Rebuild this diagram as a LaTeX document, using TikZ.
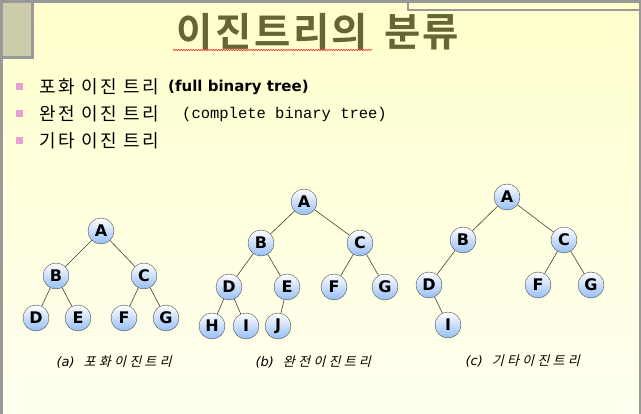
\documentclass[tikz,border=0pt]{standalone}
\usepackage{fontspec}
\setmainfont{DejaVu Sans}
\newfontfamily\krtitle[LetterSpace=6]{Noto Sans CJK KR Bold}
\newfontfamily\krtext[LetterSpace=14]{Noto Sans CJK KR}
\newfontfamily\krcap[LetterSpace=25,FakeSlant=0.25]{Noto Sans CJK KR}
\newfontfamily\engmono{Liberation Mono}
\usetikzlibrary{decorations.pathmorphing}

\definecolor{bgtop}{RGB}{255,255,204}
\definecolor{bgbot}{RGB}{255,255,240}
\definecolor{framegray}{RGB}{153,153,153}
\definecolor{boxfill}{RGB}{204,204,170}
\definecolor{titleolive}{RGB}{102,102,51}
\definecolor{bulletpink}{RGB}{230,160,210}
\definecolor{nodeblue}{RGB}{150,190,245}

\tikzset{
  vtx/.style={circle,draw=black!70,thin,top color=white,bottom color=nodeblue,
    minimum size=26pt,inner sep=0pt,font=\bfseries\fontsize{16}{16}\selectfont},
  edge/.style={black!75,line width=0.6pt},
  capline/.style={font=\fontsize{13}{13}\selectfont}
}

\begin{document}
\begin{tikzpicture}[x=1pt,y=-1pt]

% slide background
\shade[top color=bgtop,bottom color=bgbot] (0,0) rectangle (641,414);
\useasboundingbox (0,0) rectangle (641,414);
\fill[framegray] (0,0) rectangle (641,3);
\fill[framegray] (0,0) rectangle (3,414);
\fill[framegray] (639,0) rectangle (641,414);
\fill[boxfill] (3,3) rectangle (31,56);
\fill[framegray] (31,0) rectangle (34,59);
\fill[framegray] (0,56) rectangle (34,59);
\draw[framegray,line width=2pt] (408,0) -- (408,10) -- (641,10);

% title
\node[font=\krtitle\fontsize{39.5}{39.5}\selectfont,text=titleolive] (title) at (318,32) {이진트리의\hspace{16pt}분류};
\draw[red,decorate,decoration={zigzag,amplitude=0.8pt,segment length=2.5pt}] (173,50) -- (372,50);

% bullets
\foreach \y in {87,114,141}{
\fill[bulletpink] (15.5,\y-3.5) rectangle (22.5,\y+3.5);
}
\begin{scope}[every node/.style={anchor=west,inner sep=0pt}]
\node[font=\krtext\fontsize{18}{18}\selectfont] (full) at (39,87) {포화 이진 트리};
\node[font=\bfseries\fontsize{15}{15}\selectfont] (fulleng) at (168,87) {(full binary tree)};
\node[font=\krtext\fontsize{18}{18}\selectfont] (comp) at (39,114) {완전 이진 트리};
\node[font=\engmono\fontsize{15.5}{15.5}\selectfont] (compeng) at (182,114) {(complete binary tree)};
\node[font=\krtext\fontsize{18}{18}\selectfont] (other) at (39,141) {기타 이진 트리};
\end{scope}

% (a) full binary tree
\node[vtx] (aA) at (101,231) {A};
\node[vtx] (aB) at (56,276) {B};
\node[vtx] (aC) at (144,276) {C};
\node[vtx] (aD) at (36,318) {D};
\node[vtx] (aE) at (78,318) {E};
\node[vtx] (aF) at (124,318) {F};
\node[vtx] (aG) at (166,318) {G};
\foreach \p/\c in {aA/aB,aA/aC,aB/aD,aB/aE,aC/aF,aC/aG}{
\draw[edge] (\p) -- (\c);
}

% (b) complete binary tree
\node[vtx] (bA) at (304,202) {A};
\node[vtx] (bB) at (261,243) {B};
\node[vtx] (bC) at (360,243) {C};
\node[vtx] (bD) at (229,287) {D};
\node[vtx] (bE) at (287,287) {E};
\node[vtx] (bF) at (334,287) {F};
\node[vtx] (bG) at (385,287) {G};
\node[vtx] (bH) at (212,326) {H};
\node[vtx] (bI) at (246,326) {I};
\node[vtx] (bJ) at (278,326) {J};
\foreach \p/\c in {bA/bB,bA/bC,bB/bD,bB/bE,bC/bF,bC/bG,bD/bH,bD/bI,bE/bJ}{
\draw[edge] (\p) -- (\c);
}

% (c) other binary tree
\node[vtx] (cA) at (507,197) {A};
\node[vtx] (cB) at (463,240) {B};
\node[vtx] (cC) at (564,240) {C};
\node[vtx] (cD) at (429,285) {D};
\node[vtx] (cF) at (538,285) {F};
\node[vtx] (cG) at (591,285) {G};
\node[vtx] (cI) at (448,325) {I};
\foreach \p/\c in {cA/cB,cA/cC,cB/cD,cC/cF,cC/cG,cD/cI}{
\draw[edge] (\p) -- (\c);
}

% captions
\node[capline,anchor=west] (capa) at (53,362) {\itshape(a)\hspace{9pt}{\krcap 포화이진트리}};
\node[capline,anchor=west] (capb) at (252,362) {\itshape(b)\hspace{9pt}{\krcap 완전이진트리}};
\node[capline,anchor=west] (capc) at (462,361) {\itshape(c)\hspace{9pt}{\krcap 기타이진트리}};

\end{tikzpicture}
\end{document}
